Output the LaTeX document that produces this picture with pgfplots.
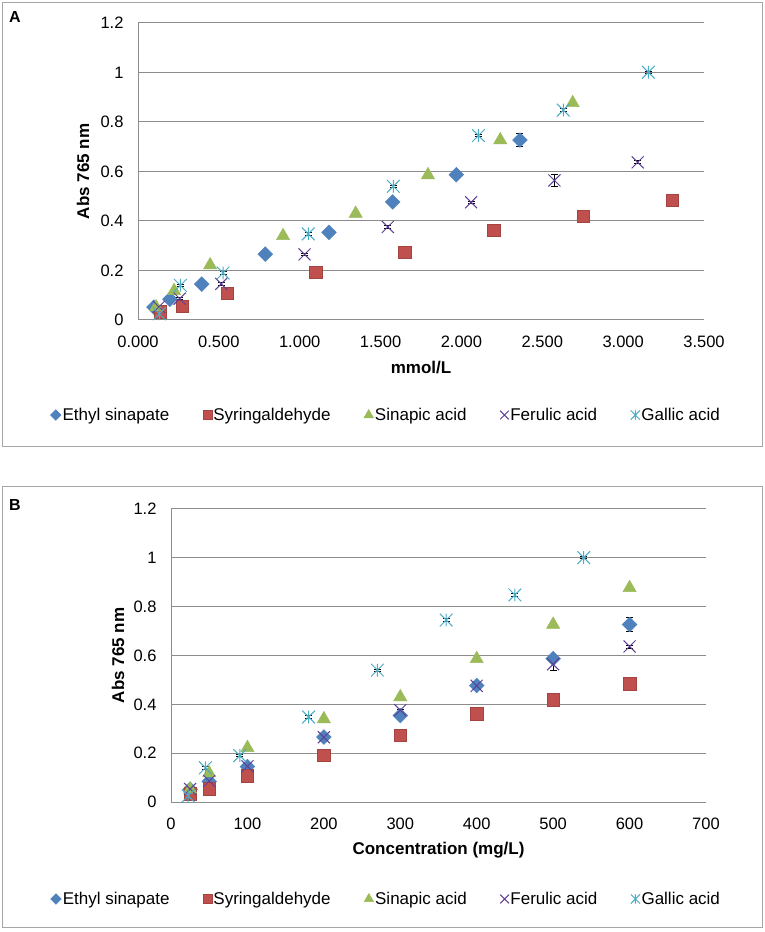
\documentclass[border=0pt]{standalone}
\usepackage{fontspec}
\setmainfont{Liberation Sans}
\usepackage{pgfplots}
\usepackage{pgfplotstable}
\pgfplotsset{compat=1.18}
\usetikzlibrary{plotmarks}

\definecolor{esblue}{HTML}{4F81BD}
\definecolor{syred}{HTML}{C0504D}
\definecolor{sygreen}{HTML}{9BBB59}
\definecolor{fapurple}{HTML}{5E3F96}
\definecolor{gablue}{HTML}{4BACC6}
\definecolor{gridgray}{HTML}{8C8C8C}
\definecolor{framegray}{HTML}{A6A6A6}

\pgfdeclareplotmark{xstar}{%
 \pgfpathmoveto{\pgfqpoint{-.7071\pgfplotmarksize}{-.7071\pgfplotmarksize}}%
 \pgfpathlineto{\pgfqpoint{.7071\pgfplotmarksize}{.7071\pgfplotmarksize}}%
 \pgfpathmoveto{\pgfqpoint{-.7071\pgfplotmarksize}{.7071\pgfplotmarksize}}%
 \pgfpathlineto{\pgfqpoint{.7071\pgfplotmarksize}{-.7071\pgfplotmarksize}}%
 \pgfpathmoveto{\pgfqpoint{0pt}{-.7071\pgfplotmarksize}}%
 \pgfpathlineto{\pgfqpoint{0pt}{.7071\pgfplotmarksize}}%
 \pgfusepathqstroke}

% Panel A: mmol/L
\pgfplotstableread{
x y e
0.098 0.052 0.004
0.197 0.084 0.004
0.394 0.145 0.004
0.787 0.266 0.004
1.181 0.354 0.004
1.575 0.477 0.004
1.968 0.587 0.004
2.362 0.727 0.027
}\esA
\pgfplotstableread{
x y e
0.137 0.034 0.003
0.274 0.055 0.003
0.551 0.108 0.003
1.100 0.192 0.003
1.650 0.273 0.003
2.200 0.362 0.003
2.752 0.418 0.003
3.302 0.485 0.003
}\syA
\pgfplotstableread{
x y e
0.112 0.052 0.004
0.223 0.118 0.004
0.446 0.222 0.004
0.897 0.340 0.004
1.346 0.430 0.004
1.793 0.586 0.004
2.240 0.727 0.004
2.688 0.877 0.004
}\saA
\pgfplotstableread{
x y e
0.129 0.053 0.004
0.258 0.086 0.004
0.515 0.146 0.006
1.030 0.265 0.004
1.545 0.376 0.005
2.060 0.476 0.004
2.575 0.564 0.025
3.090 0.637 0.006
}\faA
\pgfplotstableread{
x y e
0.132 0.025 0.004
0.262 0.140 0.005
0.526 0.190 0.005
1.053 0.348 0.005
1.579 0.540 0.005
2.105 0.745 0.005
2.630 0.848 0.005
3.156 1.001 0.004
}\gaA

% Panel B: mg/L
\pgfplotstableread{
x y e
25 0.052 0.004
50 0.084 0.004
100 0.145 0.004
200 0.266 0.004
300 0.354 0.004
400 0.477 0.004
500 0.587 0.004
600 0.727 0.027
}\esB
\pgfplotstableread{
x y e
25 0.034 0.003
50 0.055 0.003
100 0.108 0.003
200 0.192 0.003
300 0.273 0.003
400 0.362 0.003
500 0.418 0.003
600 0.485 0.003
}\syB
\pgfplotstableread{
x y e
25 0.052 0.004
50 0.118 0.004
100 0.222 0.004
200 0.340 0.004
300 0.430 0.004
400 0.586 0.004
500 0.727 0.004
600 0.877 0.004
}\saB
\pgfplotstableread{
x y e
25 0.053 0.004
50 0.086 0.004
100 0.146 0.006
200 0.265 0.004
300 0.376 0.005
400 0.476 0.004
500 0.564 0.025
600 0.637 0.006
}\faB
\pgfplotstableread{
x y e
22.5 0.025 0.004
45 0.140 0.005
90 0.190 0.005
180 0.348 0.005
270 0.540 0.005
360 0.745 0.005
450 0.848 0.005
540 1.001 0.004
}\gaB

\pgfplotsset{
 panel/.style={
  scale only axis,
  ymin=0, ymax=1.2,
  ytick={0,0.2,0.4,0.6,0.8,1,1.2},
  yticklabels={0,0.2,0.4,0.6,0.8,1,1.2},
  axis x line*=bottom, axis y line*=left,
  axis line style={-, draw=gridgray, line width=1bp},
  major tick length=0pt,
  tick style={draw=none},
  ymajorgrids,
  grid style={draw=gridgray, line width=1bp},
  /pgf/number format/assume math mode=true,
  ticklabel style={font=\fontsize{16.5bp}{19bp}\selectfont},
  yticklabel style={xshift=-11bp},
  xticklabel style={yshift=-12bp},
  label style={font=\bfseries\fontsize{17bp}{20bp}\selectfont},
  ylabel={Abs 765 nm},
  legend columns=5,
  legend style={draw=none, font=\fontsize{17bp}{20bp}\selectfont, anchor=center,
    /tikz/every even column/.append style={column sep=32bp},
    nodes={inner sep=1.5bp}},
  legend image post style={scale=0.72},
  legend cell align=left,
  clip=false,
  error bars/y dir=both,
  error bars/y explicit,
  error bars/error bar style={black, line width=0.8bp},
  error bars/error mark options={black, rotate=90, mark size=3.5bp, line width=0.8bp},
 },
 es/.style={only marks, mark=square*, mark size=5.2bp, mark options={rotate=45, fill=esblue, draw=esblue, line width=0.5bp}},
 sy/.style={only marks, mark=square*, mark size=6.2bp, mark options={fill=syred, draw=syred!85!black, line width=0.5bp}},
 sa/.style={only marks, mark=triangle*, mark size=7.6bp, mark options={fill=sygreen, draw=sygreen, line width=0.5bp}},
 fa/.style={only marks, mark=x, mark size=8.5bp, mark options={draw=fapurple, line width=1bp}},
 ga/.style={only marks, mark=xstar, mark size=9bp, mark options={draw=gablue, line width=1bp}},
}

\begin{document}
\begin{tikzpicture}
\path[use as bounding box] (0,0) rectangle (765bp,932bp);
\draw[framegray, line width=1bp] (2.5bp,485bp) rectangle (762.5bp,929.5bp);
\draw[framegray, line width=1bp] (2.5bp,4bp) rectangle (762.5bp,445bp);
\node[font=\bfseries\fontsize{16bp}{19bp}\selectfont] at (15bp,915bp) {A};
\node[font=\bfseries\fontsize{16bp}{19bp}\selectfont] at (15bp,427bp) {B};

\begin{axis}[panel,
 at={(138bp,612bp)}, anchor=south west,
 width=566bp, height=297bp,
 xmin=0, xmax=3.5,
 xtick={0,0.5,1,1.5,2,2.5,3,3.5},
 xticklabels={0.000,0.500,1.000,1.500,2.000,2.500,3.000,3.500},
 xlabel={mmol/L},
 xlabel style={at={(axis description cs:0.5,-0.1616)}, anchor=center},
 ylabel style={at={(axis description cs:-0.0972,0.5)}, anchor=center},
 legend style={at={(axis description cs:0.438,-0.32)}},
]
\addplot[es] table[x=x,y=y,y error=e]{\esA};
\addlegendentry{Ethyl sinapate}
\addplot[sy] table[x=x,y=y,y error=e]{\syA};
\addlegendentry{Syringaldehyde}
\addplot[sa] table[x=x,y=y,y error=e]{\saA};
\addlegendentry{Sinapic acid}
\addplot[fa] table[x=x,y=y,y error=e]{\faA};
\addlegendentry{Ferulic acid}
\addplot[ga] table[x=x,y=y,y error=e]{\gaA};
\addlegendentry{Gallic acid}
\end{axis}

\begin{axis}[panel,
 at={(171bp,130bp)}, anchor=south west,
 width=535bp, height=293bp,
 xmin=0, xmax=700,
 xtick={0,100,200,300,400,500,600,700},
 xticklabels={0,100,200,300,400,500,600,700},
 xlabel={Concentration (mg/L)},
 xlabel style={at={(axis description cs:0.5,-0.164)}, anchor=center},
 ylabel style={at={(axis description cs:-0.099,0.5)}, anchor=center},
 legend style={at={(axis description cs:0.402,-0.331)}},
]
\addplot[es] table[x=x,y=y,y error=e]{\esB};
\addlegendentry{Ethyl sinapate}
\addplot[sy] table[x=x,y=y,y error=e]{\syB};
\addlegendentry{Syringaldehyde}
\addplot[sa] table[x=x,y=y,y error=e]{\saB};
\addlegendentry{Sinapic acid}
\addplot[fa] table[x=x,y=y,y error=e]{\faB};
\addlegendentry{Ferulic acid}
\addplot[ga] table[x=x,y=y,y error=e]{\gaB};
\addlegendentry{Gallic acid}
\end{axis}
\end{tikzpicture}
\end{document}
